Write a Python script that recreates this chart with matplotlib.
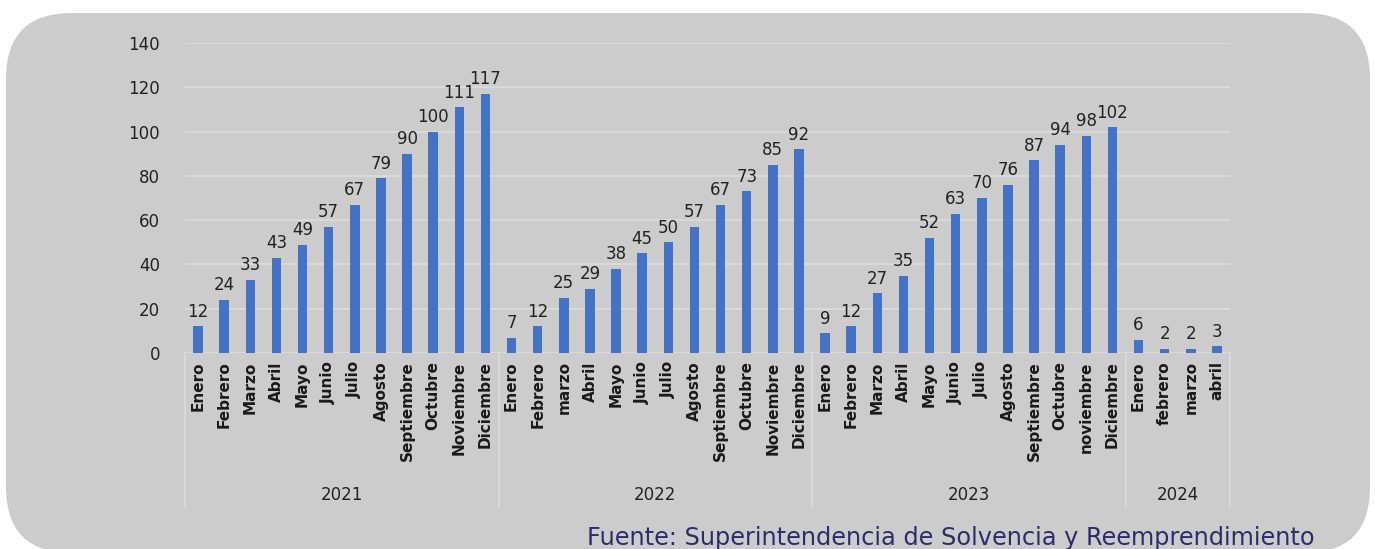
import matplotlib
matplotlib.use("Agg")
import matplotlib.pyplot as plt
from matplotlib.patches import FancyBboxPatch

years = ["2021", "2022", "2023", "2024"]
months_2021 = ["Enero", "Febrero", "Marzo", "Abril", "Mayo", "Junio", "Julio", "Agosto",
               "Septiembre", "Octubre", "Noviembre", "Diciembre"]
months_2022 = ["Enero", "Febrero", "marzo", "Abril", "Mayo", "Junio", "Julio", "Agosto",
               "Septiembre", "Octubre", "Noviembre", "Diciembre"]
months_2023 = ["Enero", "Febrero", "Marzo", "Abril", "Mayo", "Junio", "Julio", "Agosto",
               "Septiembre", "Octubre", "noviembre", "Diciembre"]
months_2024 = ["Enero", "febrero", "marzo", "abril"]
values_2021 = [12, 24, 33, 43, 49, 57, 67, 79, 90, 100, 111, 117]
values_2022 = [7, 12, 25, 29, 38, 45, 50, 57, 67, 73, 85, 92]
values_2023 = [9, 12, 27, 35, 52, 63, 70, 76, 87, 94, 98, 102]
values_2024 = [6, 2, 2, 3]
yticks = [0, 20, 40, 60, 80, 100, 120, 140]
source = "Fuente: Superintendencia de Solvencia y Reemprendimiento"

groups = [months_2021, months_2022, months_2023, months_2024]
vals = [values_2021, values_2022, values_2023, values_2024]
labels = [m for g in groups for m in g]
values = [v for g in vals for v in g]
x = list(range(len(values)))

W, H = 1375, 549
fig = plt.figure(figsize=(W / 100, H / 100), dpi=100)
fig.patch.set_facecolor("white")

bg = FancyBboxPatch((6 / W, 1 - 553 / H), 1364 / W, (553 - 13) / H,
                    boxstyle="round,pad=0,rounding_size=0.048",
                    transform=fig.transFigure, facecolor="#cccccc", edgecolor="none",
                    mutation_aspect=W / H, zorder=-10)
fig.patches.append(bg)

ax = fig.add_axes([185 / W, 1 - 353 / H, (1230 - 185) / W, (353 - 43) / H])
ax.set_zorder(1)
ax.set_facecolor("none")
ax.bar(x, values, width=0.36, color="#4472C4", zorder=3)
ax.set_xlim(-0.5, len(values) - 0.5)
ax.set_ylim(0, 140)
ax.set_yticks(yticks)
ax.set_yticklabels([str(t) for t in yticks], fontsize=12, color="#222222")
ax.yaxis.grid(True, color="#dedede", lw=1.1, zorder=0)
ax.set_axisbelow(True)
for s in ax.spines.values():
    s.set_visible(False)
ax.tick_params(axis="y", length=0, pad=18)
ax.tick_params(axis="x", length=0, pad=6)
ax.set_xticks(x)
ax.set_xticklabels(labels, rotation=90, fontsize=11, color="#1a1a1a",
                   fontweight="semibold", va="top")

for xi, v in zip(x, values):
    ax.annotate(str(v), (xi, v), xytext=(0, 4), textcoords="offset points",
                ha="center", va="bottom", fontsize=12, color="#222222")

tr = ax.get_xaxis_transform()
start = 0
bounds = [-0.5]
for g in groups:
    start += len(g)
    bounds.append(start - 0.5)
for b in bounds:
    ax.plot([b, b], [0, -0.497], transform=tr, color="#dedede", lw=1.1, clip_on=False)
for i, yr in enumerate(years):
    ax.text((bounds[i] + bounds[i + 1]) / 2, -0.458, yr, transform=tr, ha="center",
            va="center", fontsize=12, color="#222222")

fig.text(1315 / W, 1 - 538 / H, source, ha="right", va="center", fontsize=17.3,
         color="#2e2b6b", family="DejaVu Sans")

fig.savefig("out.png", dpi=100, facecolor="white")
